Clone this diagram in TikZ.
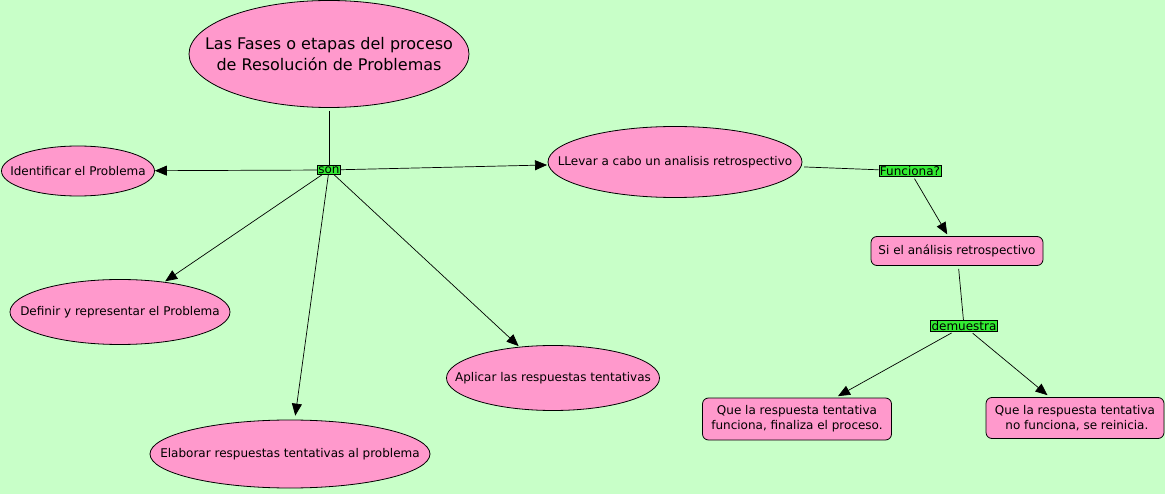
\documentclass[tikz,border=0pt]{standalone}
\usepackage{fontspec}
\setmainfont{DejaVu Sans}
\usetikzlibrary{shapes.geometric,arrows.meta}
\definecolor{bg}{RGB}{200,255,200}
\definecolor{pinkf}{RGB}{255,153,204}
\definecolor{lblg}{RGB}{51,235,51}
\tikzset{
  ell/.style={ellipse,draw=black,fill=pinkf,inner sep=0pt,line width=0.8pt},
  rbox/.style={rectangle,rounded corners=6pt,draw=black,fill=pinkf,inner sep=0pt,line width=0.8pt,align=center,font=\fontsize{12}{15}\selectfont},
  lbl/.style={rectangle,draw=black,fill=lblg,inner sep=1pt,line width=0.6pt,font=\fontsize{12}{13}\selectfont},
  conn/.style={draw=black,line width=0.7pt},
  arr/.style={conn,-{Triangle[length=12pt,width=10pt]}},
  sm/.style={font=\fontsize{12}{15}\selectfont}
}
\begin{document}
\begin{tikzpicture}[x=1pt,y=-1pt]
\useasboundingbox[fill=bg] (0,0) rectangle (1165,494);
\node[ell,minimum width=280pt,minimum height=107pt,font=\fontsize{16}{20}\selectfont] (title) at (329,54) {\makebox[0pt]{\shortstack{Las Fases o etapas del proceso\\[2pt]de Resolución de Problemas}}};
\node[ell,minimum width=153pt,minimum height=50pt,sm] (id) at (78,171) {\makebox[0pt]{Identificar el Problema}};
\node[ell,minimum width=220pt,minimum height=65pt,sm] (def) at (120,312) {\makebox[0pt]{Definir y representar el Problema}};
\node[ell,minimum width=280pt,minimum height=68pt,sm] (ela) at (290,454) {\makebox[0pt]{Elaborar respuestas tentativas al problema}};
\node[ell,minimum width=213pt,minimum height=65pt,sm] (apl) at (553,378) {\makebox[0pt]{Aplicar las respuestas tentativas}};
\node[ell,minimum width=254pt,minimum height=71pt,sm] (lle) at (675,162) {\makebox[0pt]{LLevar a cabo un analisis retrospectivo}};
\node[rbox,minimum width=172pt,minimum height=29pt] (si) at (957,251) {Si el análisis retrospectivo};
\node[rbox,minimum width=189pt,minimum height=42pt] (q1) at (797,419) {Que la respuesta tentativa\\funciona, finaliza el proceso.};
\node[rbox,minimum width=178pt,minimum height=41pt] (q2) at (1075,418) {Que la respuesta tentativa\\\ no funciona, se reinicia.};
\node[lbl] (son) at (329,170) {son};
\node[lbl] (fun) at (910,171) {Funciona?};
\node[lbl] (dem) at (964,326) {demuestra};
\draw[conn,shorten <=3pt] (title) -- (son);
\draw[arr] (son) -- (id);
\draw[arr,shorten >=1pt] (son) -- (def);
\draw[arr,shorten >=4pt] (son) -- (ela);
\draw[arr,shorten >=1pt] (son) -- (apl);
\draw[arr,shorten >=1pt] (son) -- (lle);
\draw[conn,shorten <=3pt] (lle) -- (fun);
\draw[arr,shorten <=2pt,shorten >=2pt] (fun) -- (si);
\draw[conn,shorten <=3pt] (si) -- (dem);
\draw[arr,shorten <=2pt,shorten >=3pt] (dem) -- (q1);
\draw[arr,shorten <=2pt,shorten >=3pt] (dem) -- (q2);
\end{tikzpicture}
\end{document}
